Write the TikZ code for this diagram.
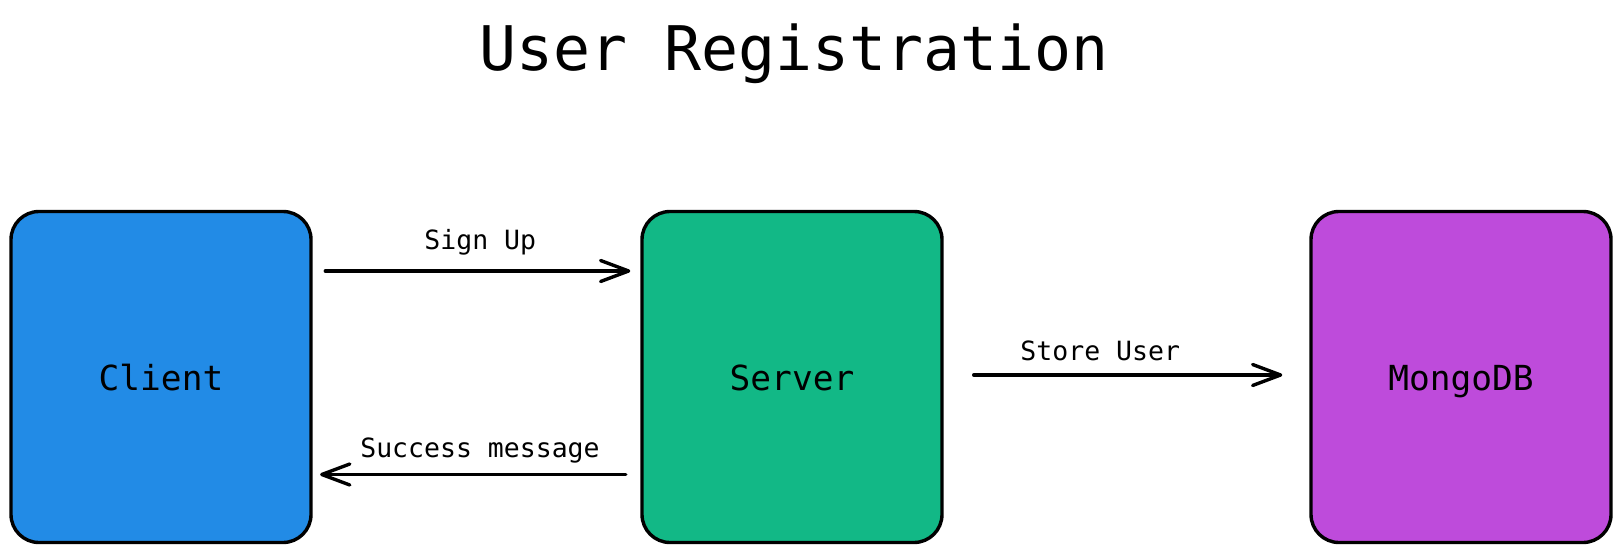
\documentclass[tikz,border=0pt]{standalone}
\usepackage{fontspec}
\setmonofont{DejaVu Sans Mono}
\usetikzlibrary{arrows.meta}
\definecolor{cblue}{HTML}{228BE6}
\definecolor{cgreen}{HTML}{12B886}
\definecolor{cpurple}{HTML}{BE4BDB}
\begin{document}
\begin{tikzpicture}[x=1pt,y=-1pt,
  box/.style={draw=black, line width=3.4pt, rounded corners=28pt, minimum width=300pt, minimum height=331pt, inner sep=0pt, text height=26pt, text depth=0pt, font=\ttfamily\fontsize{34.5}{40}\selectfont},
  arr/.style={line width=3.4pt, line cap=round, -{Straight Barb[length=28pt, width=21pt, line join=round, line cap=round]}},
  lbl/.style={font=\ttfamily\fontsize{26.5}{30}\selectfont, inner sep=0pt, anchor=base},
  ttl/.style={font=\ttfamily\fontsize{61.5}{70}\selectfont, anchor=base, inner sep=0pt}]
\useasboundingbox (0,0) rectangle (1621,553);
\fill[white] (0,0) rectangle (1621,553);
\node[ttl] (title) at (794,71) {User Registration};
\node[box, fill=cblue] (client) at (161,377) {Client};
\node[box, fill=cgreen] (server) at (792,377) {Server};
\node[box, fill=cpurple] (mongo) at (1461,377) {MongoDB};
\draw[arr] ([shift={(12.6,-106)}]client.east) -- node[lbl, pos=0.508, yshift=21pt] (l1) {Sign Up} ([shift={(-10,-106)}]server.west);
\draw[arr] ([shift={(-14.5,97.5)}]server.west) -- node[lbl, pos=0.477, yshift=17.5pt] (l2) {Success message} ([shift={(7.4,97.5)}]client.east);
\draw[arr] ([shift={(30,-2)}]server.east) -- node[lbl, pos=0.41, yshift=15pt] (l3) {Store User} ([shift={(-27,-2)}]mongo.west);
\end{tikzpicture}
\end{document}
